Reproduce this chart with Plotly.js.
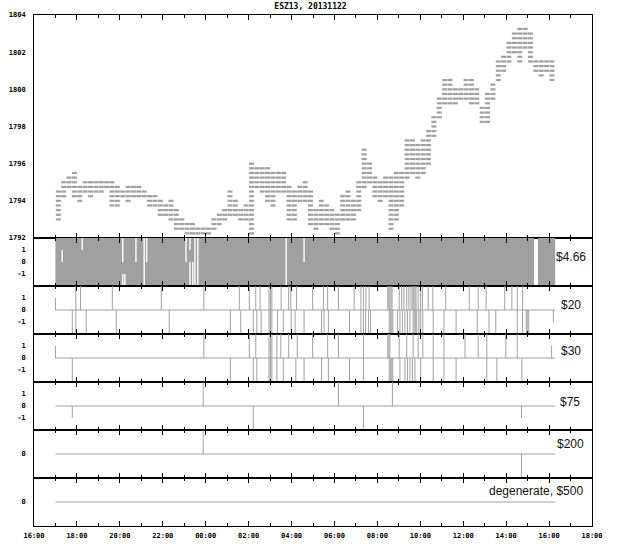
<!DOCTYPE html>
<html>
<head>
<meta charset="utf-8">
<script src="https://cdn.plot.ly/plotly-3.0.1.min.js"></script>
<style>
  html, body { margin: 0; padding: 0; background: #fff; }
  #chart { width: 618px; height: 554px; }
</style>
</head>
<body>
<div id="chart"></div>
<script>
// ESZ13 price levels traded, per 15 minute bin starting 17:00 (low / high)
const binFirst = '17:00';
const binMinutes = 15;
const binLow = [
  1793, 1794.25, 1794.75, 1794.25, 1794, 1794.5, 1794.25, 1794.5, 1794.5, 1794.75,
  1793.75, 1793.75, 1794.25, 1794, 1794.25, 1794.25, 1794.25, 1793.75, 1793.75, 1793.25,
  1793.25, 1793, 1792.5, 1792.5, 1792.25, 1792.25, 1792.25, 1792, 1792.25, 1792.5,
  1792.75, 1793, 1793.25, 1793.25, 1793, 1793, 1792.25, 1794.75, 1794.5, 1794,
  1793.75, 1794.5, 1794.5, 1793, 1793, 1794, 1794, 1792.75, 1792.5, 1792.75,
  1792.75, 1792.5, 1792.25, 1793, 1793, 1793, 1793.5, 1794.75, 1795, 1794.25,
  1794, 1794.25, 1792.5, 1793, 1793.75, 1795.25, 1795.5, 1795.25, 1795.5, 1796,
  1797.5, 1798.5, 1799.25, 1799.25, 1799.25, 1799.5, 1799.5, 1799.25, 1799.25, 1798.25,
  1798.25, 1799.5, 1800.5, 1801, 1801.5, 1802, 1801.5, 1802.25, 1801.5, 1801,
  1800.75, 1801, 1800.5
];
const binHigh = [
  1794.5, 1795, 1795.25, 1795.5, 1794.75, 1795, 1795, 1795, 1795, 1795,
  1795, 1794.75, 1794.5, 1794.75, 1794.75, 1794.75, 1794.5, 1794.25, 1794.25, 1794,
  1793.75, 1794, 1793.5, 1793, 1792.75, 1792.75, 1792.5, 1792.5, 1792.5, 1793,
  1793.25, 1793.5, 1794.5, 1794, 1793.5, 1793.75, 1796, 1795.75, 1795.75, 1795.75,
  1795.5, 1795.5, 1795.5, 1794.75, 1794.5, 1794.75, 1795, 1794.5, 1793.5, 1794,
  1793.75, 1793.5, 1793.25, 1794.25, 1794.5, 1794, 1795, 1796.75, 1796, 1795.25,
  1795, 1795.25, 1795.25, 1795.5, 1795.5, 1797.25, 1797.25, 1797, 1797.25, 1797.75,
  1798.5, 1799.5, 1800.5, 1800.5, 1800, 1800, 1800.5, 1800.5, 1800, 1799,
  1799.75, 1800.25, 1801.5, 1801.75, 1802.5, 1803, 1803.25, 1803.25, 1803, 1801.5,
  1801.5, 1801.5, 1801.5
];
const priceTick = 0.25;
const priceTicks = [1792, 1794, 1796, 1798, 1800, 1802, 1804];

// trading session covered by the signal panels (17:00 to 16:17 next day)
const sessionStart = '17:00';
const sessionEnd = '16:17';

// $4.66 panel: a solid band, with the moments where it opens up
const fastBlockStart = ['17:00', '15:29'];
const fastBlockEnd = ['15:18', '16:17'];
const fastGapTime = ['17:19', '18:15', '20:08', '20:08', '20:14', '20:45', '21:08', '21:15', '23:05',
                     '23:16', '23:16', '23:24', '23:30', '23:38', '03:45', '04:35'];
const fastGapLo = [0, 1, 0, -2, -2, 0, -2, 0, 0, 1, -2, -2, -2, -2, -2, 0];
const fastGapHi = [1, 2, 2, -1, -1, 2, 2, 2, 2, 2, 0, 0, 2, 2, 2, 2];

// $20 panel
const s20Up = ['17:57', '18:10', '19:39', '21:56', '23:55', '01:34', '02:02', '02:20', '02:32', '02:57', '03:01', '03:05',
  '03:31', '03:52', '03:58', '04:14', '04:59', '05:29', '05:41', '06:11', '06:55', '07:14', '07:21', '07:28', '07:37',
  '08:29', '08:32', '08:35', '08:38', '08:41', '09:01', '09:08', '09:14', '09:22', '09:28', '09:34', '09:39', '09:42',
  '09:45', '09:48', '09:54', '10:01', '10:06', '10:22', '10:35', '11:11', '12:17', '12:42', '13:04', '13:56', '14:16',
  '14:31', '14:46'];
const s20Down = ['17:47', '17:57', '18:26', '19:50', '22:18', '01:09', '01:38', '02:13', '02:23', '02:35', '02:57', '03:01',
  '03:05', '03:21', '03:37', '03:59', '04:10', '04:35', '05:24', '05:31', '05:43', '06:42', '07:14', '07:21', '07:27',
  '07:35', '07:41', '08:33', '08:36', '08:40', '08:43', '08:56', '09:03', '09:10', '09:17', '09:24', '09:31', '09:40',
  '09:43', '09:47', '09:50', '09:56', '10:01', '10:07', '10:36', '11:06', '11:40', '12:39', '13:12', '13:31', '14:31',
  '14:46', '14:56', '14:59', '15:03'];
const s20UnitTime = ['17:00', '16:12'];
const s20UnitVal = [1, -1];

// $30 panel
const s30Up = ['23:55', '02:02', '02:20', '02:57', '03:01', '03:05', '03:19', '03:30', '03:52', '04:16', '04:59', '05:41',
  '06:11', '07:21', '08:29', '08:32', '08:35', '09:01', '09:22', '09:40', '09:54', '10:07', '10:36', '11:06', '12:05',
  '12:42', '13:06', '13:59', '14:31'];
const s30Down = ['17:47', '01:09', '02:13', '02:23', '02:57', '03:01', '03:05', '03:19', '03:37', '04:12', '04:35', '05:24',
  '05:43', '06:42', '07:21', '08:33', '08:36', '08:40', '08:43', '09:03', '09:17', '09:24', '09:31', '09:38', '09:45',
  '10:01', '10:36', '11:06', '11:40', '13:06', '13:34', '14:44'];
const s30UnitTime = ['17:00', '16:07'];
const s30UnitVal = [1, 1];

// $75 panel
const s75Up = ['23:53', '06:11', '08:42'];
const s75Down = ['02:13', '07:21'];
const s75UnitTime = ['17:47', '14:43'];
const s75UnitVal = [-1, -1];

// $200 panel
const s200Up = ['23:53'];
const s200Down = ['14:43'];

// degenerate, $500 panel: nothing but the flat line
const s500Up = [];
const s500Down = [];

const panelLabels = ['$4.66', '$20', '$30', '$75', '$200', 'degenerate, $500'];

const GREY = '#a0a0a0';
const MONO = 'DejaVu Sans Mono';

// minutes after 16:00 on 2013-11-21 -> plotly date string
function stamp(min){
  const d = new Date(Date.UTC(2013, 10, 21, 16, 0) + min * 60000);
  return d.toISOString().slice(0, 16).replace('T', ' ');
}
// session clock: 17:00 .. 16:59 of the next day
function clockMin(hhmm){
  const [h, m] = hhmm.split(':').map(Number);
  return 60 + ((h - 17 + 24) % 24) * 60 + m;
}
const clock = hhmm => stamp(clockMin(hhmm));

// --- main panel: one short dash per price level and bin
const dashX = [], dashY = [];
const first = clockMin(binFirst);
binLow.forEach((lo, k) => {
  const t0 = first + k * binMinutes;
  for (let p = lo; p <= binHigh[k] + 1e-9; p += priceTick) {
    dashX.push(stamp(t0 + 1.5), stamp(t0 + binMinutes), null);
    dashY.push(p, p, null);
  }
});

const traces = [{
  x: dashX, y: dashY, xaxis: 'x', yaxis: 'y', mode: 'lines',
  line: { color: GREY, width: 2.2 }, hoverinfo: 'skip', showlegend: false
}];

// --- $4.66 panel
fastBlockStart.forEach((s, i) => {
  const a = clock(s), b = clock(fastBlockEnd[i]);
  traces.push({
    x: [a, b, b, a, a], y: [-2, -2, 2, 2, -2], xaxis: 'x2', yaxis: 'y2',
    mode: 'lines', fill: 'toself', fillcolor: GREY, line: { width: 0, color: GREY },
    hoverinfo: 'skip', showlegend: false
  });
});
const gapX = [], gapY = [];
fastGapTime.forEach((t, i) => {
  gapX.push(clock(t), clock(t), null);
  gapY.push(fastGapLo[i], fastGapHi[i], null);
});
traces.push({
  x: gapX, y: gapY, xaxis: 'x2', yaxis: 'y2', mode: 'lines',
  line: { color: '#ffffff', width: 1.4 }, hoverinfo: 'skip', showlegend: false
});

// --- impulse panels
function impulsePanel(n, up, down, unitT, unitV){
  const xs = [], ys = [];
  const add = (t, v) => { xs.push(clock(t), clock(t), null); ys.push(0, v, null); };
  up.forEach(t => add(t, 2));
  down.forEach(t => add(t, -2));
  (unitT || []).forEach((t, i) => add(t, unitV[i]));
  traces.push({
    x: [clock(sessionStart), clock(sessionEnd)], y: [0, 0], xaxis: 'x' + n, yaxis: 'y' + n,
    mode: 'lines', line: { color: GREY, width: 1 }, hoverinfo: 'skip', showlegend: false
  });
  traces.push({
    x: xs, y: ys, xaxis: 'x' + n, yaxis: 'y' + n, mode: 'lines',
    line: { color: GREY, width: 1 }, hoverinfo: 'skip', showlegend: false
  });
}
impulsePanel(3, s20Up, s20Down, s20UnitTime, s20UnitVal);
impulsePanel(4, s30Up, s30Down, s30UnitTime, s30UnitVal);
impulsePanel(5, s75Up, s75Down, s75UnitTime, s75UnitVal);
impulsePanel(6, s200Up, s200Down);
impulsePanel(7, s500Up, s500Down);

// --- layout
const domains = [[0.5636, 1], [0.4697, 0.5636], [0.3757, 0.4697], [0.2818, 0.3757],
                 [0.1879, 0.2818], [0.0939, 0.1879], [0, 0.0939]];
const sigTicks = [-1, 0, 1];
const tickSets = [priceTicks, sigTicks, sigTicks, sigTicks, sigTicks, [0], [0]];
const ranges = [[1792, 1804], [-2, 2], [-2, 2], [-2, 2], [-2, 2], [-2, 2], [-2, 2]];
const labelPos = [[571, 0.45], [571, 0.42], [571, 0.6], [570, 0.36], [570, 0.83], [585, 0.92]];
const tickFont = { family: MONO, size: 7, color: '#000', weight: 'bold' };

const layout = {
  width: 618, height: 554,
  margin: { l: 34, r: 26, t: 15, b: 28 },
  paper_bgcolor: '#fff', plot_bgcolor: '#fff',
  showlegend: false,
  title: {
    text: 'ESZ13, 20131122', font: { family: MONO, size: 8, color: '#000', weight: 'bold' },
    x: 0.5024, xref: 'container', xanchor: 'center', y: 1 - 6 / 554, yref: 'container', yanchor: 'middle'
  },
  annotations: []
};

for (let i = 1; i <= 7; i++) {
  const sfx = i === 1 ? '' : String(i);
  layout['xaxis' + sfx] = {
    domain: [0, 1], anchor: 'y' + sfx,
    matches: i === 1 ? undefined : 'x',
    type: 'date',
    range: ['2013-11-21 16:00', '2013-11-22 18:00'],
    tick0: '2013-11-21 16:00', dtick: 7200000, tickformat: '%H:%M',
    ticks: 'inside', ticklen: 5, tickcolor: '#000', tickwidth: 1,
    minor: { dtick: 3600000, ticks: 'inside', ticklen: 3, tickcolor: '#000', tickwidth: 1 },
    showticklabels: i === 7, ticklabelstandoff: 3,
    tickfont: tickFont,
    showline: true, mirror: 'ticks', linecolor: '#000', linewidth: 1,
    showgrid: false, zeroline: false, fixedrange: true
  };
  const tv = tickSets[i - 1];
  layout['yaxis' + sfx] = {
    domain: domains[i - 1], anchor: 'x' + sfx, range: ranges[i - 1],
    tickvals: tv, ticktext: tv.map(v => String(v)),
    ticks: '', ticklabelstandoff: 6,
    tickfont: tickFont,
    showline: true, mirror: true, linecolor: '#000', linewidth: 1,
    showgrid: false, zeroline: false, fixedrange: true
  };
  // right-hand copy carrying the inward ticks
  layout['yaxis' + (i + 7)] = {
    overlaying: 'y' + sfx, side: 'right', anchor: 'x' + sfx, range: ranges[i - 1],
    tickvals: tv, ticks: 'inside', ticklen: 5, tickcolor: '#000',
    showticklabels: false, showline: false, showgrid: false, zeroline: false, fixedrange: true
  };
  if (i > 1) {
    const [px, py] = labelPos[i - 2];
    layout.annotations.push({
      text: panelLabels[i - 2], xref: 'paper', yref: 'y' + sfx,
      x: (px - 34) / 558, y: py, xanchor: i === 7 ? 'right' : 'center', yanchor: 'middle',
      showarrow: false, font: { family: 'Liberation Sans', size: 12, color: '#111' }
    });
  }
}

Plotly.newPlot('chart', traces, layout, { displayModeBar: false, staticPlot: true });
</script>
</body>
</html>
